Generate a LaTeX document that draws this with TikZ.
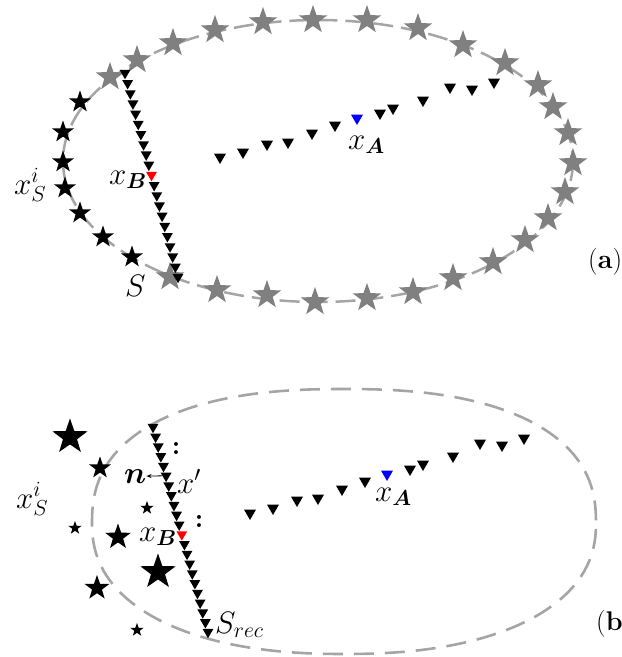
\documentclass[tikz,border=0pt]{standalone}
\usepackage{fix-cm}
\usepackage{amsmath,bm}
\usepackage{fontspec}
\usetikzlibrary{shapes.geometric,arrows.meta}
\definecolor{stargray}{RGB}{128,128,128}
\definecolor{linegray}{RGB}{165,165,165}
\definecolor{trired}{RGB}{255,0,0}
\definecolor{triblue}{RGB}{0,0,255}
\tikzset{
  gstar/.style={star, star points=5, star point ratio=2.5, fill=stargray, minimum size=30pt, inner sep=0pt},
  bstar/.style={star, star points=5, star point ratio=2.5, fill=black, minimum size=#1, inner sep=0pt},
  bstar/.default=23pt,
  tri/.style={regular polygon, regular polygon sides=3, shape border rotate=180, fill=#1, minimum size=14pt, inner sep=0pt},
  tri/.default=black,
  vtri/.style={tri=#1, minimum size=12.5pt},
  vtri/.default=black,
  lab/.style={font=\fontsize{31}{35}\selectfont, inner sep=0pt, anchor=base west},
  panel/.style={font=\fontsize{27}{31}\selectfont, inner sep=0pt, anchor=base west},
  dots/.style={font=\fontsize{27}{30}\selectfont\bfseries, inner sep=0pt},
  ringa/.style={draw=linegray, line width=2.5pt, dash pattern=on 20pt off 8pt},
  ringb/.style={draw=linegray, line width=2.6pt, dash pattern=on 20pt off 11pt},
}
\begin{document}
\begin{tikzpicture}[x=1pt,y=-1pt]
\useasboundingbox (0,0) rectangle (622,657);

% ---------------- panel (a) ----------------
\draw[ringa] (318,161) ellipse [x radius=255, y radius=141];
\foreach \p [count=\k] in {(110,77),(137,60),(173,43),(215,30),(263,22),(313,20),(367,20),(418,28),(463,45),(505,63),(538,85),(553,107),(568,133),(573,163),(565,192),(548,218),(525,240),(493,262),(453,278),(413,292),(367,298),(315,302),(267,295),(217,290),(170,277)}
  \node[gstar] (ga\k) at \p {};
\foreach \p [count=\k] in {(80,102),(63,132),(63,162),(65,188),(80,213),(103,237),(132,257)}
  \node[bstar] (ba\k) at \p {};
% slanted row of receivers
\foreach \i in {0,...,9,11,12,...,20}
  \node[vtri] (va\i) at ({125+53*\i/20},{73+204*\i/20}) {};
\node[vtri=trired] (va10) at ({125+53*10/20},{73+204*10/20}) {};
% curved row
\foreach \p [count=\k] in {(220,157),(243,152),(267,144),(288,142),(312,133),(335,125),(380,113),(393,108),(423,100),(450,87),(472,89),(494,82)}
  \node[tri] (ha\k) at \p {};
\node[tri=triblue] (xaA) at (357,118) {};
% labels
\node[lab] (lxsa) at (14,194) {$x_S^i$};
\node[lab] (lxba) at (109,184) {$x_{\bm{B}}$};
\node[lab] (lxaa) at (348,149) {$x_{\bm{A}}$};
\node[lab] (lsa) at (125,296) {$S$};
\node[panel] (pa) at (588,268) {(\textbf{a})};

% ---------------- panel (b) ----------------
\draw[ringb]
  plot[domain=0.5:179.5, samples=90, variable=\t]
    ({344+252*cos(\t)*pow(abs(cos(\t)),-0.167)},{523-134*sin(\t)*pow(abs(sin(\t)),-0.167)})
  -- plot[domain=180.5:359.5, samples=90, variable=\t]
    ({344+252*cos(\t)*pow(abs(cos(\t)),-0.12)},{523-131*sin(\t)*pow(abs(sin(\t)),-0.12)})
  -- cycle;
\node[bstar=37pt] (bb1) at (70,437) {};
\node[bstar=23pt] (bb2) at (100,468) {};
\node[bstar=14pt] (bb3) at (147,508) {};
\node[bstar=14pt] (bb4) at (75,528) {};
\node[bstar=27pt] (bb5) at (118,537) {};
\node[bstar=37pt] (bb6) at (158,572) {};
\node[bstar=26pt] (bb7) at (97,588) {};
\node[bstar=14pt] (bb8) at (137,630) {};
% slanted row of receivers
\foreach \i in {0,...,10,12,13,...,21}
  \node[vtri] (vb\i) at ({153+55*\i/21},{427+205*\i/21}) {};
\node[vtri=trired] (vb11) at ({153+55*11/21},{427+205*11/21}) {};
% curved row
\foreach \p [count=\k] in {(250,513),(273,508),(297,500),(318,498),(342,489),(365,481),(410,469),(423,464),(453,456),(480,443),(502,445),(524,438)}
  \node[tri] (hb\k) at \p {};
\node[tri=triblue] (xbA) at (387,474) {};
% labels
\node[dots] (d1) at (176,448) {:};
\node[dots] (d2) at (199,521) {:};
\node[lab] (lxsb) at (16,508) {$x_S^i$};
\node[lab] (ln) at (124,483) {$\bm{n}$};
\draw[-{Stealth[length=5pt,width=4pt]}, line width=0.8pt] (vb5.west) -- (ln.east);
\node[lab] (lxp) at (177,493) {$x'$};
\node[lab] (lxbb) at (139,541) {$x_{\bm{B}}$};
\node[lab] (lxab) at (375,501) {$x_{\bm{A}}$};
\node[lab] (lsrec) at (215,633) {$S_{rec}$};
\node[panel] (pb) at (596,630) {(\textbf{b}};
\end{tikzpicture}
\end{document}
